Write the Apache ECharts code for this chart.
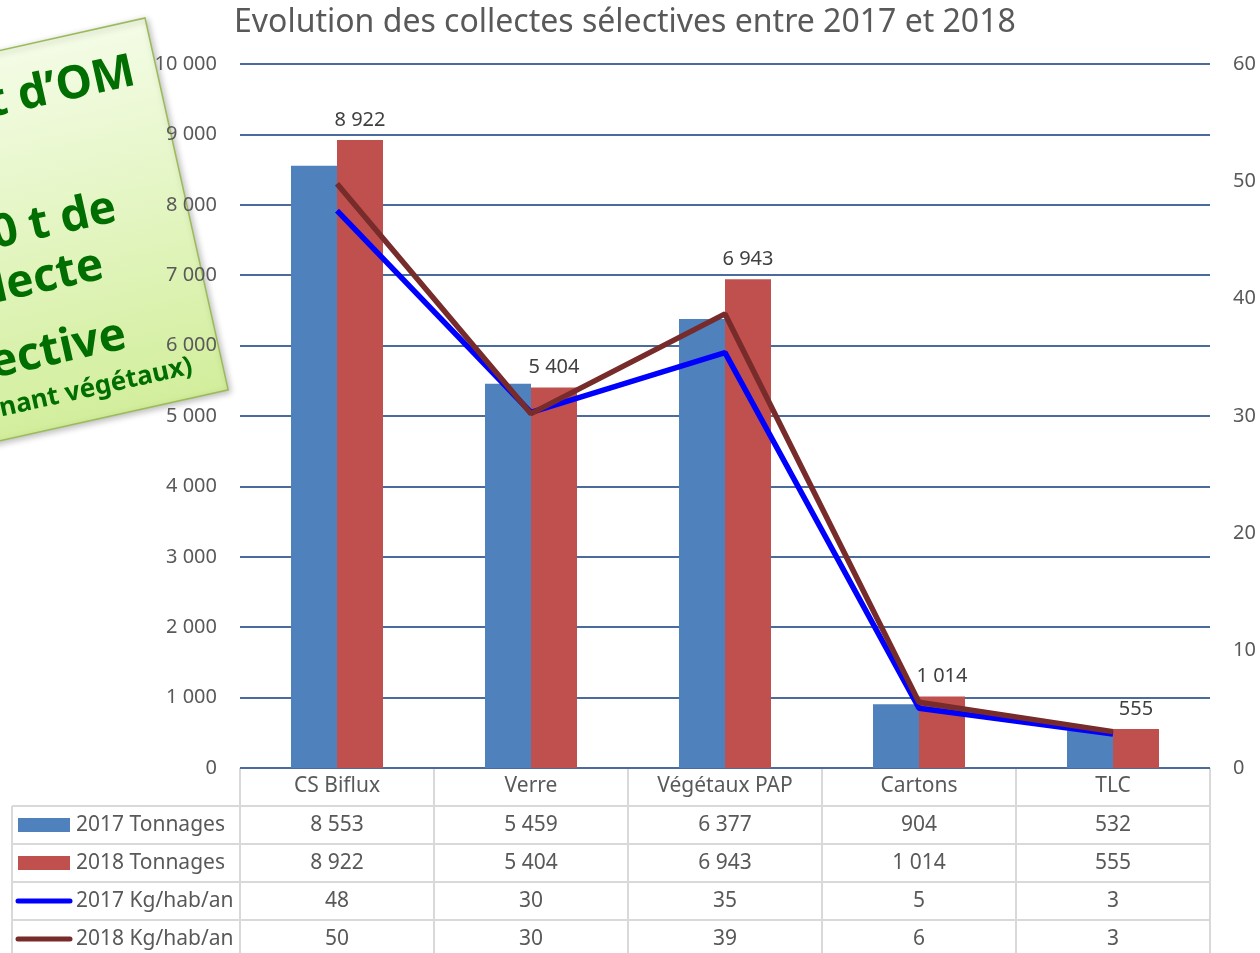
<!DOCTYPE html>
<html>
<head>
<meta charset="utf-8">
<script src="https://cdn.jsdelivr.net/npm/echarts@6/dist/echarts.min.js"></script>
<style>
  html, body { margin: 0; padding: 0; background: #fff; }
  #chart { width: 1260px; height: 953px; }
</style>
</head>
<body>
<div id="chart"></div>
<script>
// data
var categories = ['CS Biflux', 'Verre', 'Végétaux PAP', 'Cartons', 'TLC'];
var tonnes2017 = [8553, 5459, 6377, 904, 532];
var tonnes2018 = [8922, 5404, 6943, 1014, 555];
var kgHab2017 = [47.5, 30.3, 35.4, 5.1, 2.9];
var kgHab2018 = [49.8, 30.2, 38.7, 5.6, 3.1];
var seriesNames = ['2017 Tonnages', '2018 Tonnages', '2017 Kg/hab/an', '2018 Kg/hab/an'];
var noteLines = ['t d\u2019OM', '0 t de', 'lecte', 'ective', 'nant végétaux)'];

var colBlue = '#4F81BD', colRed = '#C0504D', colLine17 = '#0000FF', colLine18 = '#772B2B';
var textCol = '#595959', borderCol = '#D9D9D9';
var font = '"Noto Sans", "Open Sans", sans-serif';

// layout of plot and table
var gLeft = 240, gRight = 1210, gTop = 64, gBottom = 768;
var rowH = 38, legendLeft = 12;

function fmt(v) {
	return String(v).replace(/\B(?=(\d{3})+(?!\d))/g, ' ');
}

var myChart = echarts.init(document.getElementById('chart'));

function buildTable() {
	var els = [];
	var colW = (gRight - gLeft) / categories.length;
	var rows = [tonnes2017, tonnes2018, kgHab2017, kgHab2018];
	var lineStyle = {stroke: borderCol, lineWidth: 2};
	// top border of the header row
	els.push({type: 'line', shape: {x1: gLeft, y1: gBottom, x2: gRight, y2: gBottom}, style: lineStyle, silent: true});
	for (var r = 0; r <= rows.length; r++) {
		var y = gBottom + rowH * (r + 1);
		els.push({type: 'line', shape: {x1: legendLeft, y1: y, x2: gRight, y2: y}, style: lineStyle, silent: true});
	}
	for (var c = 0; c <= categories.length; c++) {
		var x = gLeft + colW * c;
		els.push({type: 'line', shape: {x1: x, y1: gBottom, x2: x, y2: 960}, style: lineStyle, silent: true});
	}
	els.push({type: 'line', shape: {x1: legendLeft, y1: gBottom + rowH, x2: legendLeft, y2: 960}, style: lineStyle, silent: true});

	for (var r = 0; r < rows.length; r++) {
		var cy = gBottom + rowH * (r + 1) + rowH / 2;
		// legend key
		if (r < 2) {
			els.push({type: 'rect', shape: {x: 18, y: cy - 7, width: 52, height: 14},
				style: {fill: r == 0 ? colBlue : colRed}, silent: true});
		} else {
			els.push({type: 'line', shape: {x1: 18, y1: cy, x2: 70, y2: cy},
				style: {stroke: r == 2 ? colLine17 : colLine18, lineWidth: 5, lineCap: 'round'}, silent: true});
		}
		els.push({type: 'text', x: 76, y: cy, style: {text: seriesNames[r], fill: textCol,
			font: '21px ' + font, textVerticalAlign: 'middle', verticalAlign: 'middle'}, silent: true});
		for (var c = 0; c < categories.length; c++) {
			var v = rows[r][c];
			els.push({type: 'text', x: gLeft + colW * (c + 0.5), y: cy, style: {
				text: r < 2 ? fmt(v) : String(Math.round(v)), fill: textCol,
				font: '21px ' + font, align: 'center', textAlign: 'center',
				verticalAlign: 'middle', textVerticalAlign: 'middle'}, silent: true});
		}
	}
	return els;
}

function buildNote() {
	var pos = [[-22, 50, 46], [-70, 179, 46], [-95, 232, 46], [-88, 305, 46], [-30, 350, 26]];
	var children = [{
		type: 'rect', shape: {x: -420, y: 0, width: 420, height: 381},
		style: {
			fill: new echarts.graphic.LinearGradient(0, 0, 0, 1, [
				{offset: 0, color: '#F4FCE6'}, {offset: 1, color: '#D2EE9C'}]),
			stroke: '#9BBB59', lineWidth: 1.5,
			shadowBlur: 6, shadowColor: 'rgba(0,0,0,0.25)', shadowOffsetX: 2, shadowOffsetY: 2
		}
	}];
	for (var i = 0; i < noteLines.length; i++) {
		children.push({type: 'text', x: pos[i][0], y: pos[i][1], style: {
			text: noteLines[i], fill: '#006E00', font: 'bold ' + pos[i][2] + 'px ' + font,
			align: 'right', textAlign: 'right', verticalAlign: 'middle', textVerticalAlign: 'middle'}});
	}
	return {type: 'group', x: 145, y: 18, rotation: 0.22, z: 100, silent: true, children: children};
}

var option = {
	animation: false,
	backgroundColor: '#fff',
	textStyle: {fontFamily: font},
	title: {
		text: 'Evolution des collectes sélectives entre 2017 et 2018',
		left: 229, top: 2,
		textStyle: {fontSize: 32, fontWeight: 'normal', color: textCol, fontFamily: font}
	},
	legend: {show: false},
	grid: {left: gLeft, right: 1260 - gRight, top: gTop, bottom: 953 - gBottom, containLabel: false},
	xAxis: {
		type: 'category',
		data: categories,
		axisLine: {show: false},
		axisTick: {show: false},
		axisLabel: {color: textCol, fontSize: 21, margin: 8, fontFamily: font}
	},
	yAxis: [{
		type: 'value', min: 0, max: 10000, interval: 1000,
		axisLine: {show: false}, axisTick: {show: false},
		axisLabel: {color: textCol, fontSize: 20, margin: 23, formatter: fmt, fontFamily: font},
		splitLine: {lineStyle: {color: '#4A6B9B', width: 2}}
	}, {
		type: 'value', min: 0, max: 60, interval: 10,
		axisLine: {show: false}, axisTick: {show: false},
		axisLabel: {color: textCol, fontSize: 20, margin: 23, fontFamily: font},
		splitLine: {show: false}
	}],
	series: [{
		name: seriesNames[0], type: 'bar', data: tonnes2017, barWidth: 46, barGap: '0%',
		itemStyle: {color: colBlue}
	}, {
		name: seriesNames[1], type: 'bar', data: tonnes2018, barWidth: 46,
		itemStyle: {color: colRed},
		label: {show: true, position: 'top', distance: 10, color: '#404040', fontSize: 20,
			fontFamily: font, formatter: function (p) { return fmt(p.value); }}
	}, {
		name: seriesNames[2], type: 'line', yAxisIndex: 1, data: kgHab2017,
		symbol: 'none', lineStyle: {color: colLine17, width: 5.5}, itemStyle: {color: colLine17}, z: 5
	}, {
		name: seriesNames[3], type: 'line', yAxisIndex: 1, data: kgHab2018,
		symbol: 'none', lineStyle: {color: colLine18, width: 5.5}, itemStyle: {color: colLine18}, z: 6
	}],
	graphic: buildTable().concat([buildNote()])
};

myChart.setOption(option);
</script>
</body>
</html>
